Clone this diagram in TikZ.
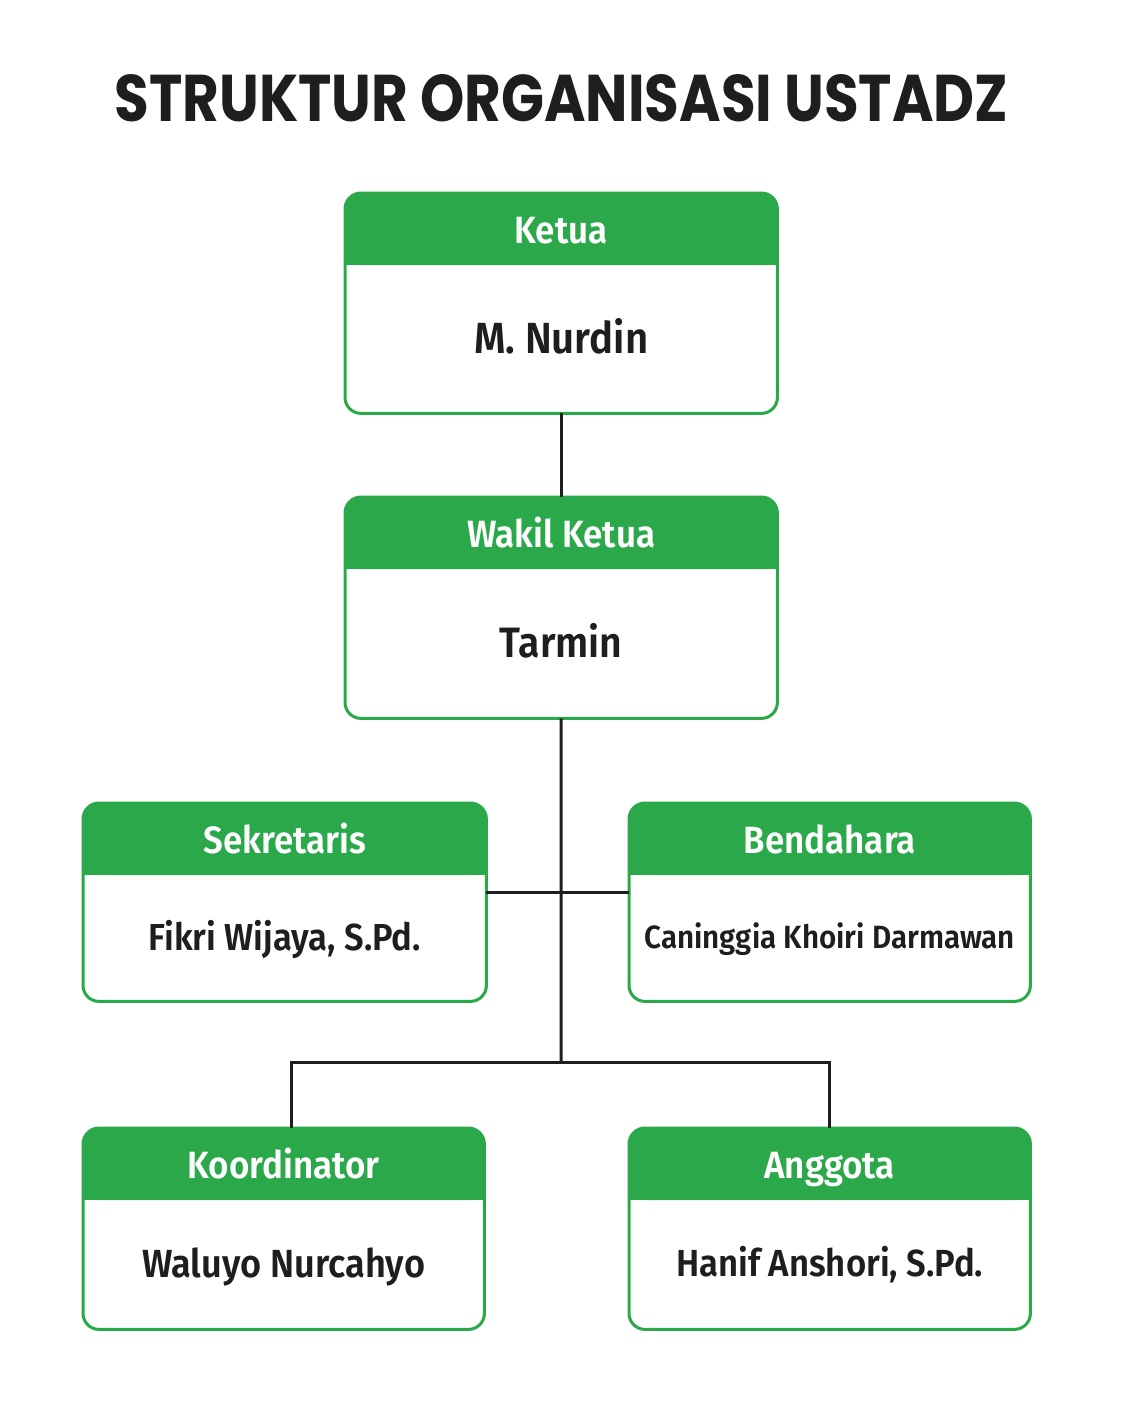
\documentclass[tikz,border=0pt]{standalone}
\usepackage{fontspec}
\setmainfont{Fira Sans}[BoldFont={Fira Sans SemiBold}]
\newfontfamily\titlefont{Poppins}[BoldFont={Poppins Bold}]
\usetikzlibrary{calc}
\definecolor{grn}{HTML}{2AA84A}
\definecolor{ink}{HTML}{1E1E1E}
\tikzset{
  boxframe/.style={draw=none, anchor=north west, inner sep=0pt},
  hdrtext/.style={text=white, inner sep=0pt, anchor=base, xscale=0.92, font=\fontsize{38}{40}\selectfont\bfseries},
  nametext/.style={text=ink, inner sep=0pt, anchor=base, xscale=0.92},
  link/.style={draw=ink, line width=3pt},
}
% #1 name, #2 x, #3 y, #4 width, #5 height, #6 title, #7 person, #8 person size
\newcommand\orgbox[8]{%
  \node[boxframe, minimum width=#4pt, minimum height=#5pt] (#1) at (#2,#3) {};
  \fill[grn, rounded corners=16pt] (#1.north west) rectangle ([yshift=-72pt]#1.north east);
  \fill[grn] ([yshift=-40pt]#1.north west) rectangle ([yshift=-72pt]#1.north east);
  \draw[grn, line width=3pt, rounded corners=16pt] (#1.north west) rectangle (#1.south east);
  \node[hdrtext] (#1-t) at ([yshift=-50pt]#1.north) {#6};
  \pgfmathsetmacro\fsz{#8*1.09}%
  \node[nametext, font=\fontsize{\fsz}{\fsz}\selectfont\bfseries] (#1-n) at ([yshift={-(35+0.376*#8)*1pt}]#1.center) {#7};
}
\begin{document}
\begin{tikzpicture}[x=1pt, y=-1pt]
\useasboundingbox (0,0) rectangle (1122,1402);
\fill[white] (0,0) rectangle (1122,1402);
\node[text=ink, inner sep=0pt] (title) at (561.5,98.5) {\resizebox{893pt}{47pt}{\titlefont\bfseries STRUKTUR ORGANISASI USTADZ}};

\orgbox{ketua}{345}{193}{432}{220}{Ketua}{M. Nurdin}{40}
\orgbox{wakil}{345}{497}{432}{221}{Wakil Ketua}{Tarmin}{39}
\orgbox{sek}{83}{803}{403}{198}{Sekretaris}{Fikri Wijaya, S.Pd.}{34.5}
\orgbox{ben}{629}{803}{401}{198}{Bendahara}{Caninggia Khoiri Darmawan}{29.5}
\orgbox{koor}{83}{1128}{401}{201}{Koordinator}{Waluyo Nurcahyo}{36}
\orgbox{ang}{629}{1128}{401}{201}{Anggota}{Hanif Anshori, S.Pd.}{34.6}

\coordinate (hy) at (561,892);
\coordinate (junc) at (561,1062);
\draw[link] (ketua.south) -- (wakil.north);
\draw[link] (wakil.south) -- (junc);
\draw[link] (sek.east |- hy) -- (ben.west |- hy);
\draw[link] ([xshift=8pt]koor.north) |- (junc) -| (ang.north);
\end{tikzpicture}
\end{document}
